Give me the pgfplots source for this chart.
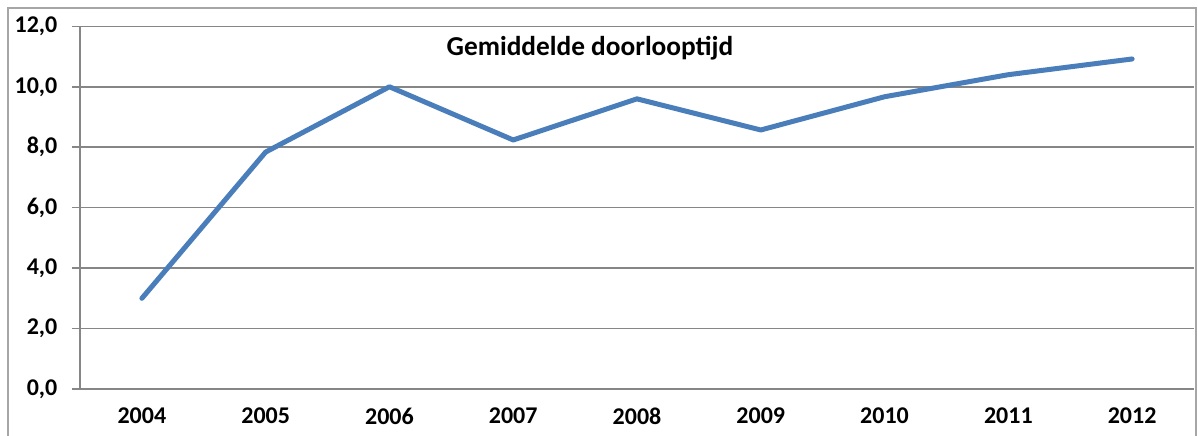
\documentclass[border=0pt]{standalone}
\usepackage{pgfplots}
\pgfplotsset{compat=1.18}
\usepackage{fontspec}
\setmainfont{Carlito}
\definecolor{linecol}{HTML}{4A7EBB}
\definecolor{gridcol}{HTML}{868686}
\definecolor{framecol}{HTML}{A6A6A6}
\begin{document}
\begin{tikzpicture}
\path[use as bounding box] (-60pt,-34.5pt) rectangle (838.5pt,291.75pt);
\clip (-60pt,-34.5pt) rectangle (838.5pt,291.75pt);
\draw[framecol, line width=1.2pt] (-54pt,-60pt) rectangle (837pt,285.75pt);
\begin{axis}[
  scale only axis,
  width=835.5pt, height=272pt,
  xmin=-0.5, xmax=8.5,
  ymin=0, ymax=12,
  xtick={0,...,8},
  xticklabels={2004,2005,2006,2007,2008,2009,2010,2011,2012},
  minor xtick={-0.5,0.5,...,8.5},
  ytick={0,2,...,12},
  ymajorgrids,
  grid style={gridcol, line width=1.1pt},
  axis x line*=bottom, axis y line*=left,
  axis line style={-, gridcol, line width=1.1pt},
  tick align=outside,
  major tick length=6pt, minor tick length=6pt,
  xtick style={draw=none},
  minor x tick style={gridcol, line width=1.1pt},
  ytick style={gridcol, line width=1.1pt},
  tick label style={font=\bfseries\fontsize{18}{18}\selectfont, black},
  yticklabel style={xshift=-7.5pt},
  xticklabel style={yshift=-4.5pt},
  /pgf/number format/assume math mode=true,
  yticklabel={\pgfmathprintnumber[fixed, fixed zerofill, precision=1, use comma]{\tick}},
  scaled y ticks=false,
  title={Gemiddelde doorlooptijd},
  title style={font=\bfseries\fontsize{20.5}{20.5}\selectfont, at={(axis description cs:0.4578,0.918)}, anchor=center},
  clip=false,
]
\addplot[linecol, line width=3.75pt, line join=round, line cap=round] coordinates {
(0,3.0) (1,7.84) (2,10.0) (3,8.24) (4,9.6) (5,8.57) (6,9.67) (7,10.4) (8,10.92)
};
\end{axis}
\end{tikzpicture}
\end{document}
